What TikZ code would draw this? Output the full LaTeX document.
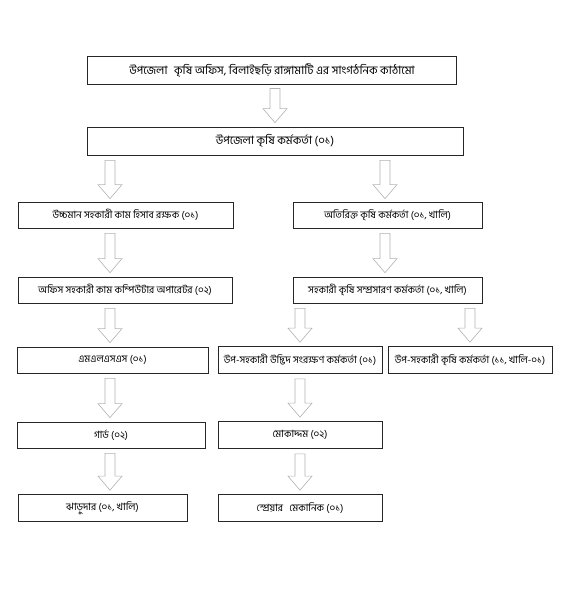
\documentclass[tikz,border=0pt]{standalone}
\usepackage{fontspec}
\newfontfamily\bn[Script=Bengali]{Hind Siliguri}
\usetikzlibrary{calc}

\tikzset{
  box/.style={draw=black!85, line width=0.7pt, rectangle, align=center, inner sep=1pt,
    font=\bn\fontsize{10}{12}\selectfont},
  blockarrow/.style={draw=gray!60, fill=white, line width=0.6pt,
    to path={($(\tikztostart)+(-5,0)$) -- ($(\tikztostart)+(5,0)$)
      -- ($(\tikztotarget)+(5,-14)$) -- ($(\tikztotarget)+(12,-14)$)
      -- (\tikztotarget) -- ($(\tikztotarget)+(-12,-14)$)
      -- ($(\tikztotarget)+(-5,-14)$) -- cycle}}
}

\begin{document}
\begin{tikzpicture}[x=1pt, y=-1pt]
\useasboundingbox (0,0) rectangle (573,610);

% Title box
\node[box, minimum width=369, minimum height=27, line width=1pt, font=\bn\fontsize{11.5}{13}\selectfont] (title) at (272,70.5)
{উপজেলা\hspace{4pt} কৃষি অফিস, বিলাইছড়ি রাঙ্গামাটি এর সাংগঠনিক কাঠামো};

% Upazila officer
\node[box, minimum width=376, minimum height=28, font=\bn\fontsize{11.5}{13}\selectfont] (uao) at (275,141) {উপজেলা কৃষি কর্মকর্তা (০১)};

% Left column
\node[box, minimum width=215, minimum height=26] (hsa) at (125.5,215) {উচ্চমান সহকারী কাম হিসাব রক্ষক (০১)};
\node[box, minimum width=214, minimum height=26] (oac) at (125,290) {অফিস সহকারী কাম কম্পিউটার অপারেটর (০২)};
\node[box, minimum width=191, minimum height=26] (mlss) at (112.5,360) {এমএলএসএস (০১)};
\node[box, minimum width=188, minimum height=26] (guard) at (111,435) {গার্ড (০২)};
\node[box, minimum width=169, minimum height=27] (sweeper) at (102.5,508) {ঝাড়ুদার (০১, খালি)};

% Right column
\node[box, minimum width=189, minimum height=26] (aao) at (387.5,215) {অতিরিক্ত কৃষি কর্মকর্তা (০১, খালি)};
\node[box, minimum width=189, minimum height=26] (saeo) at (387.5,290) {সহকারী কৃষি সম্প্রসারণ কর্মকর্তা (০১, খালি)};
\node[box, minimum width=164, minimum height=27] (sapp) at (300,360) {উপ-সহকারী উদ্ভিদ সংরক্ষণ কর্মকর্তা (০১)};
\node[box, minimum width=164, minimum height=27] (saao) at (470,360) {উপ-সহকারী কৃষি কর্মকর্তা (১১, খালি-০১)};
\node[box, minimum width=164, minimum height=27] (mokaddam) at (300,435) {মোকাদ্দম (০২)};
\node[box, minimum width=164, minimum height=27] (sprayer) at (300,508) {স্প্রেয়ার\hspace{4pt} মেকানিক (০১)};

% Arrow columns
\coordinate (lcol) at (110,0);
\coordinate (rcol) at (385,0);

% Arrows
\draw[blockarrow] ($(title.south)+(3,4)$) to ($(uao.north)+(0,-4)$);
\draw[blockarrow] ($(uao.south -| lcol)+(0,5)$) to ($(hsa.north -| lcol)+(0,-3)$);
\draw[blockarrow] ($(uao.south -| rcol)+(0,5)$) to ($(aao.north -| rcol)+(0,-3)$);
\draw[blockarrow] ($(hsa.south -| lcol)+(0,5)$) to ($(oac.north -| lcol)+(0,-4)$);
\draw[blockarrow] ($(aao.south -| rcol)+(0,5)$) to ($(saeo.north -| rcol)+(0,-4)$);
\draw[blockarrow] ($(oac.south -| lcol)+(0,5)$) to ($(mlss.north -| lcol)+(0,-4)$);
\draw[blockarrow] ($(saeo.south -| sapp.north)+(0,5)$) to ($(sapp.north)+(0,-4)$);
\draw[blockarrow] ($(saeo.south -| saao.north)+(0,5)$) to ($(saao.north)+(0,-4)$);
\draw[blockarrow] ($(mlss.south -| lcol)+(0,5)$) to ($(guard.north -| lcol)+(0,-4)$);
\draw[blockarrow] ($(sapp.south)+(0,5)$) to ($(mokaddam.north)+(0,-4)$);
\draw[blockarrow] ($(guard.south -| lcol)+(0,5)$) to ($(sweeper.north -| lcol)+(0,-4)$);
\draw[blockarrow] ($(mokaddam.south)+(0,5)$) to ($(sprayer.north)+(0,-4)$);
\end{tikzpicture}
\end{document}
